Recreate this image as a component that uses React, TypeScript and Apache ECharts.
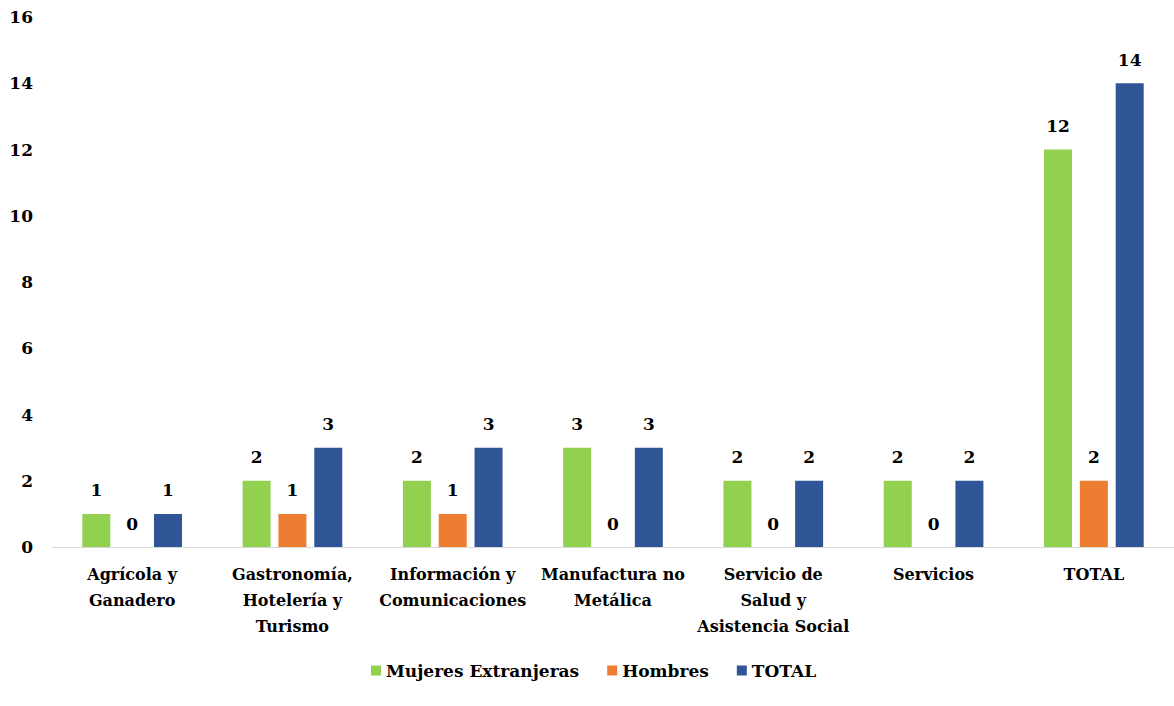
import React, { useEffect, useRef } from "react";
import * as echarts from "echarts";

const categories = [
  "Agrícola y\nGanadero",
  "Gastronomía,\nHotelería y\nTurismo",
  "Información y\nComunicaciones",
  "Manufactura no\nMetálica",
  "Servicio de\nSalud y\nAsistencia Social",
  "Servicios",
  "TOTAL",
];
const mujeres = [1, 2, 2, 3, 2, 2, 12];
const hombres = [0, 1, 1, 0, 0, 0, 2];
const total = [1, 3, 3, 3, 2, 2, 14];

const FONT = "DejaVu Serif";

export default function App() {
  const ref = useRef<HTMLDivElement>(null);
  useEffect(() => {
    const chart = echarts.init(ref.current!, null, { renderer: "svg" });
    const label = {
      show: true,
      position: "top" as const,
      distance: 15,
      fontFamily: FONT,
      fontWeight: "bold" as const,
      fontSize: 17,
      color: "#000",
    };
    chart.setOption({
      animation: false,
      backgroundColor: "#fff",
      textStyle: { fontFamily: FONT },
      grid: { left: 52, right: 0, top: 17, bottom: 159 },
      legend: {
        bottom: 22,
        left: 366,
        itemWidth: 10,
        itemHeight: 10,
        itemGap: 28,
        icon: "rect",
        textStyle: { fontFamily: FONT, fontWeight: "bold", fontSize: 17, color: "#000" },
        data: ["Mujeres Extranjeras", "Hombres", "TOTAL"],
      },
      xAxis: {
        type: "category",
        data: categories,
        axisLine: { lineStyle: { color: "#d9d9d9", width: 1 } },
        axisTick: { show: false },
        axisLabel: {
          interval: 0,
          margin: 14,
          fontFamily: FONT,
          fontWeight: "bold",
          fontSize: 16,
          lineHeight: 26,
          color: "#000",
        },
      },
      yAxis: {
        type: "value",
        min: 0,
        max: 16,
        interval: 2,
        splitLine: { show: false },
        axisLine: { show: false },
        axisTick: { show: false },
        axisLabel: {
          margin: 19,
          fontFamily: FONT,
          fontWeight: "bold",
          fontSize: 17,
          color: "#000",
        },
      },
      series: [
        {
          name: "Mujeres Extranjeras",
          type: "bar",
          data: mujeres,
          barWidth: 28,
          barGap: "28%",
          itemStyle: { color: "#92d050" },
          label,
        },
        {
          name: "Hombres",
          type: "bar",
          data: hombres,
          barWidth: 28,
          itemStyle: { color: "#ed7d31" },
          label,
        },
        {
          name: "TOTAL",
          type: "bar",
          data: total,
          barWidth: 28,
          itemStyle: { color: "#2f5597" },
          label,
        },
      ],
    });
    return () => chart.dispose();
  }, []);
  return (
    <div
      ref={ref}
      style={{ position: "fixed", left: 0, top: 0, width: 1174, height: 706, background: "#fff" }}
    />
  );
}
